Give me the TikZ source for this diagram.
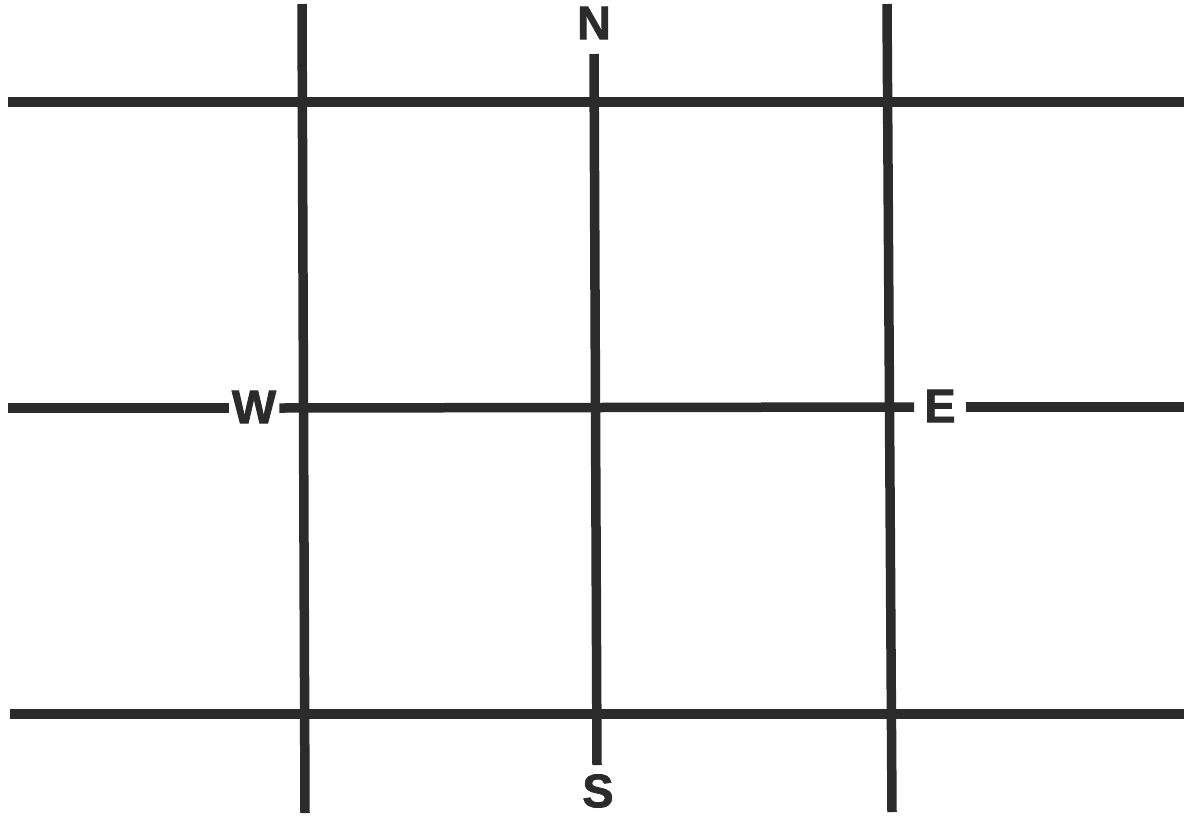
\documentclass[tikz,border=0pt]{standalone}
\usepackage{fontspec}
\setmainfont{Liberation Sans}
\newfontfamily\heavyfont[FakeBold=1.6]{Liberation Sans Bold}
\definecolor{ink}{HTML}{2B2B2B}
\begin{document}
\begin{tikzpicture}[x=1pt,y=-1pt,
  road/.style={line width=9.5pt, draw=ink},
  lbl/.style={font=\heavyfont\fontsize{47}{47}\selectfont, text=ink, inner ysep=0pt, inner xsep=0pt}]
\useasboundingbox (0,0) rectangle (1184,815);
\fill[white] (0,0) rectangle (1184,815);
% labels
\node[lbl] (N) at (594,23) {N};
\node[lbl] (S) at (598,791) {S};
\node[lbl, inner xsep=3pt] (W) at (254,407) {W};
\node[lbl, inner xsep=10pt] (E) at (940,406) {E};
% endpoints
\coordinate (t0) at (8,102);   \coordinate (t1) at (1184,102);
\coordinate (m0) at (8,408);   \coordinate (m1) at (1184,407);
\coordinate (b0) at (10,714);  \coordinate (b1) at (1184,714);
\coordinate (l0) at (302,4);   \coordinate (l1) at (305,813);
\coordinate (c0) at (594,54);  \coordinate (c1) at (597,765);
\coordinate (r0) at (887,4);   \coordinate (r1) at (892,812);
% roads
\draw[road] (t0) -- (t1);
\draw[road] (b0) -- (b1);
\draw[road] (m0) -- (m0 -| W.west);
\draw[road] (W.east |- m0) -- (E.west |- m1);
\draw[road] (E.east |- m1) -- (m1);
\draw[road] (l0) -- (l1);
\draw[road] (c0) -- (c1);
\draw[road] (r0) -- (r1);
\end{tikzpicture}
\end{document}
